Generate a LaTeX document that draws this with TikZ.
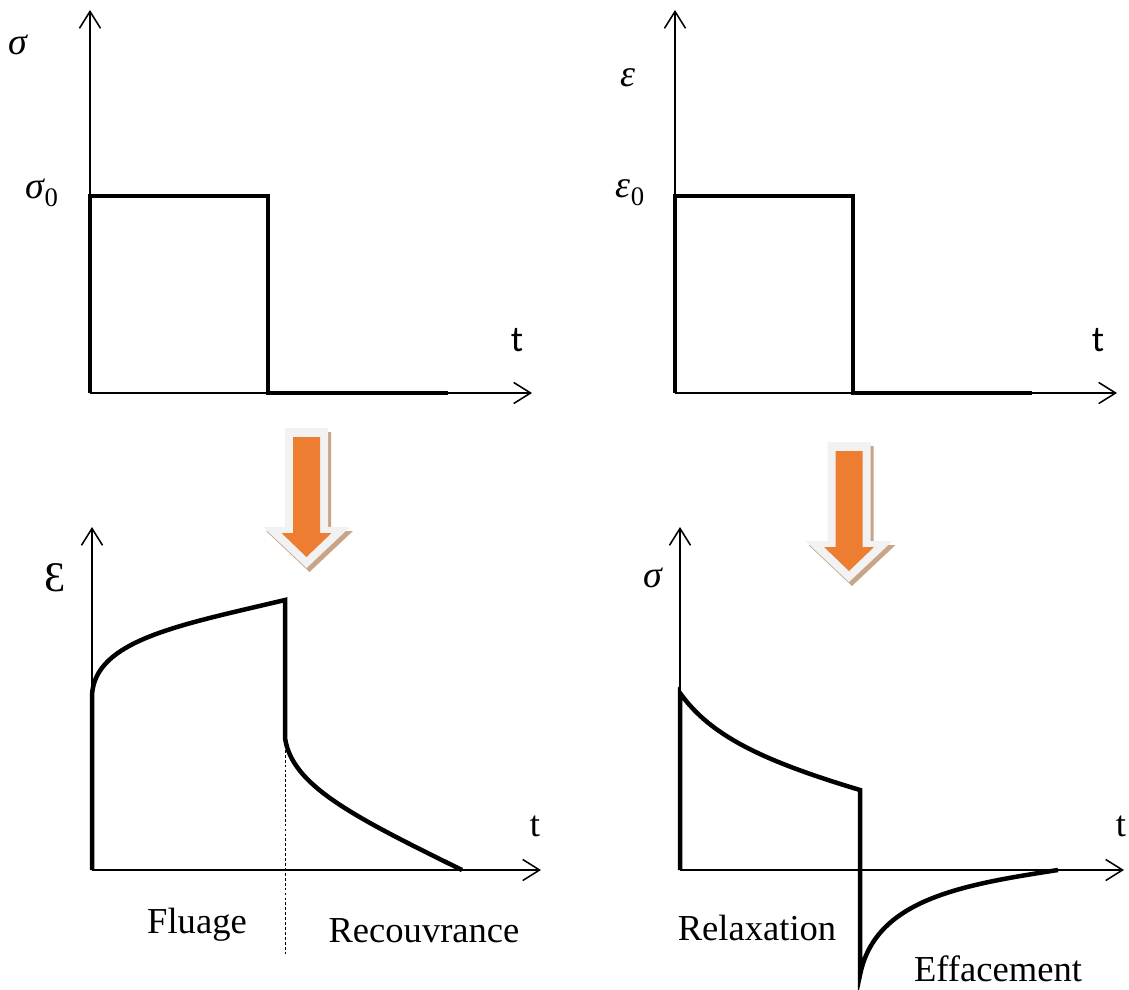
\documentclass[tikz,border=0pt]{standalone}
\usepackage{fontspec}
\setmainfont{Liberation Serif}
\newfontfamily\calibrisans{Carlito}
\usepackage{tikz}
\usetikzlibrary{arrows.meta, positioning}
\definecolor{myorange}{RGB}{237,125,49}
\definecolor{myrim}{RGB}{242,242,242}
\definecolor{myshadow}{RGB}{200,164,136}
\tikzset{
  axis/.style={line width=1.1pt, -{Straight Barb[length=12pt, width=15pt, line width=1.1pt]}},
  curve/.style={line width=3.2pt, line join=miter},
  lbl/.style={inner sep=0pt, font=\fontsize{26}{30}\selectfont},
  sanslbl/.style={inner sep=0pt, font=\fontsize{26}{30}\selectfont\calibrisans},
  greeklbl/.style={inner sep=0pt, font=\fontsize{27}{30}\selectfont\itshape},
  rim/.style={fill=myrim},
  core/.style={fill=myorange},
  shade/.style={fill=myshadow}
}
% fat down arrow, origin at centre of its top edge
\newcommand{\fatarrow}[1]{%
  \begin{scope}[shift={#1}]
    \fill[shade] (-18.5,4) -- (24.5,4) -- (24.5,103) -- (46.5,103) -- (3,144) -- (-40.5,103) -- (-18.5,103) -- cycle;
    \fill[rim] (-21.5,0) -- (21.5,0) -- (21.5,99) -- (43.5,99) -- (0,140) -- (-43.5,99) -- (-21.5,99) -- cycle;
    \fill[core] (-13.5,9) -- (13.5,9) -- (13.5,105) -- (25,105) -- (0,129) -- (-25,105) -- (-13.5,105) -- cycle;
  \end{scope}}

\begin{document}
\begin{tikzpicture}[x=0.025cm, y=-0.025cm]
  \useasboundingbox (0,0) rectangle (1129,990);

  % stress step (top left)
  \coordinate (oa) at (90,393);
  \coordinate (ya) at (90,10);
  \coordinate (xa) at (532,393);
  \draw[axis] (oa) -- (ya);
  \draw[axis] (oa) -- (xa);
  \draw[curve] (oa) -- (90,196) -- (268,196) -- (268,393) -- (448,393);
  \node[greeklbl] (siga) at (18,45) {σ};
  \node[greeklbl] (sigzero) at (42,193) {σ\raisebox{-0.22em}{\upshape\fontsize{19}{20}\selectfont 0}};
  \node[sanslbl] (ta) at (517,340) {t};

  % strain step (top right)
  \coordinate (ob) at (675,393);
  \coordinate (yb) at (675,10);
  \coordinate (xb) at (1117,393);
  \draw[axis] (ob) -- (yb);
  \draw[axis] (ob) -- (xb);
  \draw[curve] (ob) -- (675,196) -- (853,196) -- (853,393) -- (1032,393);
  \node[greeklbl] (epsb) at (628,78) {ε};
  \node[greeklbl] (epszero) at (630,193) {ε\raisebox{-0.22em}{\upshape\fontsize{19}{20}\selectfont 0}};
  \node[sanslbl] (tb) at (1098,340) {t};

  % orange arrows
  \fatarrow{(306.5,428)}
  \fatarrow{(849,442)}

  % creep and recovery (bottom left)
  \coordinate (oc) at (92,870);
  \coordinate (yc) at (92,527);
  \coordinate (xc) at (541,870);
  \draw[axis] (oc) -- (yc);
  \draw[axis] (oc) -- (xc);
  \draw[curve] (oc) -- (92,695) .. controls (95,640) and (180,625) .. (285,600)
    -- (285,738) .. controls (292,785) and (350,815) .. (462,870);
  \draw[thin, dashed, dash pattern=on 2pt off 1.5pt] (285,740) -- (285,955);
  \node[lbl, font=\fontsize{30}{32}\selectfont] (epsc) at (55,578) {Ɛ};
  \node[lbl] (tc) at (535,826) {t};
  \node[lbl] (fluage) at (197,925) {Fluage};
  \node[lbl] (recouv) at (424,931) {Recouvrance};

  % relaxation and erasure (bottom right)
  \coordinate (od) at (680,870);
  \coordinate (yd) at (680,527);
  \coordinate (xd) at (1124,870);
  \draw[axis] (od) -- (yd);
  \draw[axis] (od) -- (xd);
  \draw[curve] (od) -- (680,693) .. controls (710,735) and (760,760) .. (860,790)
    -- (860,975) .. controls (875,900) and (960,885) .. (1058,870);
  \node[greeklbl] (sigd) at (653,578) {σ};
  \node[lbl] (td) at (1121,826) {t};
  \node[lbl] (relax) at (757,928) {Relaxation};
  \node[lbl] (effac) at (998,969) {Effacement};
\end{tikzpicture}
\end{document}
